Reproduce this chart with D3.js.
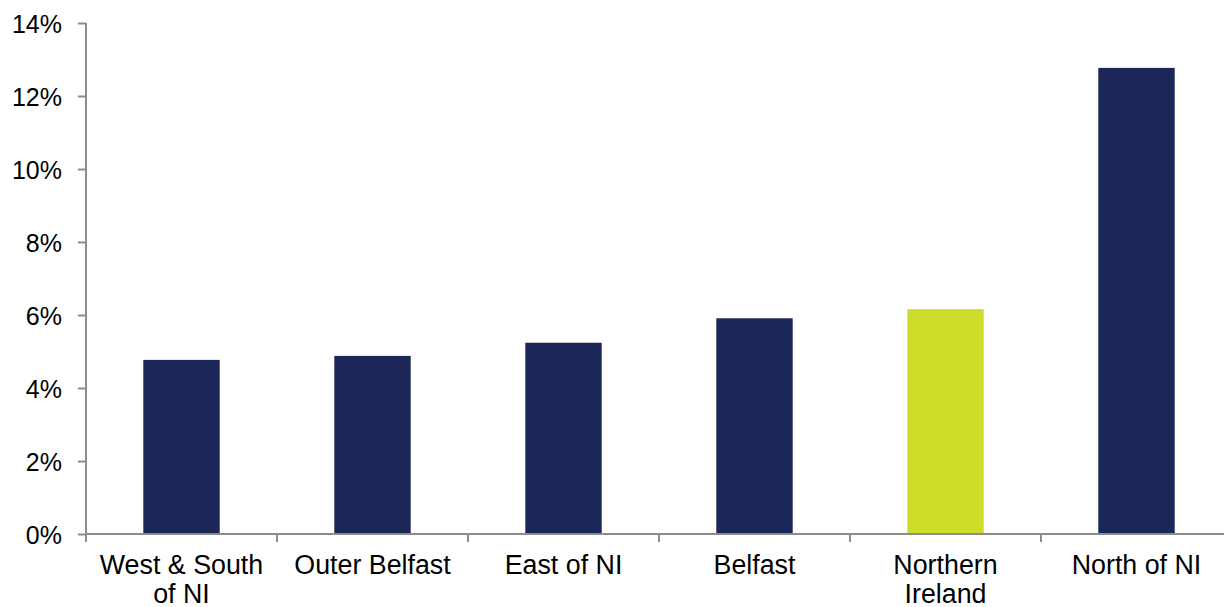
<!DOCTYPE html>
<html>
<head>
<style>
  body { margin: 0; background: #fff; }
  svg { display: block; font-family: "Liberation Sans", Arial, sans-serif; }
  .axis path, .axis line { stroke: #8c8c8c; stroke-width: 2; }
  .axis text { fill: #000; font-size: 25px; }
  .axis text.cat { font-size: 26.8px; }
</style>
</head>
<body>
<svg width="1224" height="607"></svg>
<script src="https://d3js.org/d3.v7.min.js"></script>
<script>

// data
var regions = ["West & South of NI", "Outer Belfast", "East of NI", "Belfast", "Northern Ireland", "North of NI"];
var regionLines = [["West & South", "of NI"], ["Outer Belfast"], ["East of NI"], ["Belfast"], ["Northern", "Ireland"], ["North of NI"]];
var rates = [4.77, 4.88, 5.24, 5.91, 6.16, 12.77];
var highlight = "Northern Ireland";
var yTicks = [0, 2, 4, 6, 8, 10, 12, 14];

var svg = d3.select("svg");

var x = d3.scaleBand()
    .domain(regions)
    .range([86, 1232])
    .paddingInner(0.6)
    .paddingOuter(0.3);

var y = d3.scaleLinear()
    .domain([0, 14])
    .range([534, 23]);

// bars
svg.append("g")
    .selectAll("rect")
    .data(regions)
    .enter().append("rect")
      .attr("x", function(d) { return x(d); })
      .attr("y", function(d, i) { return y(rates[i]); })
      .attr("width", x.bandwidth())
      .attr("height", function(d, i) { return y(0) - y(rates[i]); })
      .attr("fill", function(d) { return d === highlight ? "#cddc29" : "#1b2857"; });

// y axis
var yAxis = svg.append("g")
    .attr("class", "axis")
    .attr("transform", "translate(86,0)")
    .call(d3.axisLeft(y).tickValues(yTicks).tickSize(8).tickPadding(16)
      .tickFormat(function(d) { return d + "%"; }));
yAxis.select(".domain").attr("d", "M0," + y(14) + "V" + y(0));
yAxis.selectAll("text").attr("dy", "0.36em");

// x axis: ticks sit on the band boundaries
var step = x.step();
var boundaries = d3.range(regions.length + 1).map(function(i) {
  return x.range()[0] + i * step;
});
var xAxis = svg.append("g").attr("class", "axis");
xAxis.append("path")
    .attr("d", "M86," + y(0) + "H1232")
    .attr("fill", "none");
xAxis.selectAll("line")
    .data(boundaries)
    .enter().append("line")
      .attr("x1", function(d) { return d; })
      .attr("x2", function(d) { return d; })
      .attr("y1", y(0))
      .attr("y2", y(0) + 8);

xAxis.selectAll("text.cat")
    .data(regions)
    .enter().append("text")
      .attr("class", "cat")
      .attr("text-anchor", "middle")
      .attr("x", function(d) { return x(d) + x.bandwidth() / 2; })
      .attr("y", y(0) + 40)
      .each(function(d, i) {
        var t = d3.select(this);
        regionLines[i].forEach(function(line, j) {
          t.append("tspan")
            .attr("x", x(d) + x.bandwidth() / 2)
            .attr("dy", j === 0 ? 0 : 29)
            .text(line);
        });
      });

</script>
</body>
</html>
